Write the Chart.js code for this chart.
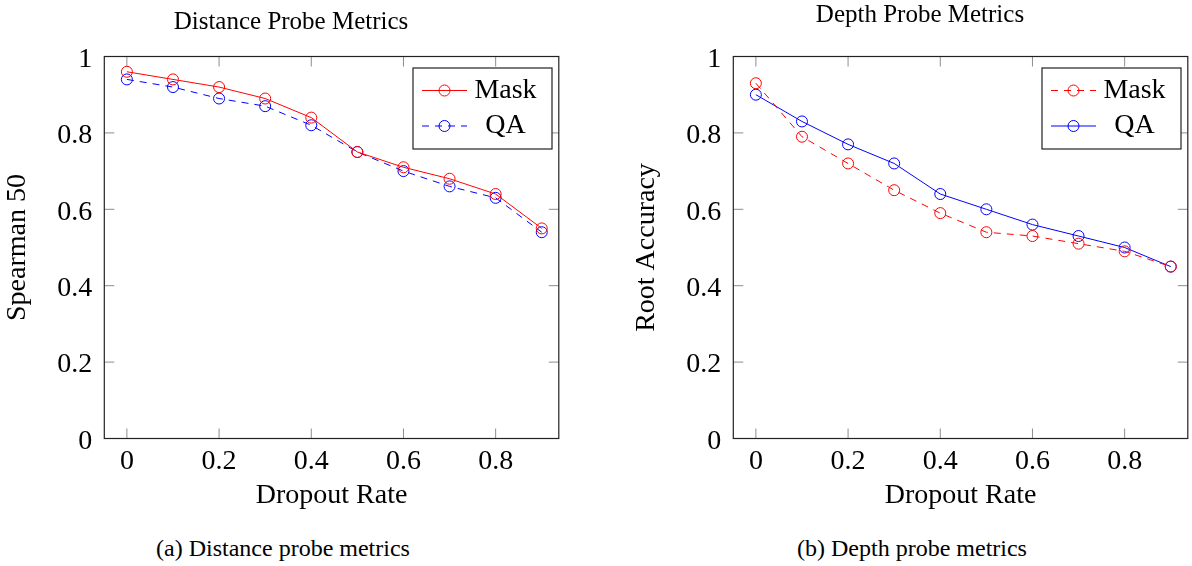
<!DOCTYPE html>
<html>
<head>
<meta charset="utf-8">
<script src="https://cdn.jsdelivr.net/npm/chart.js@4.4.1/dist/chart.umd.min.js"></script>
<style>
  html, body { margin: 0; padding: 0; background: #fff; overflow: hidden; width: 1192px; height: 566px; }
  canvas { position: absolute; top: 0; }
  #c1 { left: 0; }
  #c2 { left: 629px; }
  .cap { position: absolute; top: 536px; font: 24px "Liberation Serif", serif; line-height: 24px;
         white-space: nowrap; transform: translateX(-50%); color: #000; }
</style>
</head>
<body>
<canvas id="c1" width="582" height="520"></canvas>
<canvas id="c2" width="582" height="520"></canvas>
<div class="cap" style="left:283px">(a) Distance probe metrics</div>
<div class="cap" style="left:912px">(b) Depth probe metrics</div>
<script>
// Dropout sweep: distance probe (Spearman) and depth probe (root accuracy).

const DROPOUT = [0, 0.1, 0.2, 0.3, 0.4, 0.5, 0.6, 0.7, 0.8, 0.9];
const X_TICKS = [0, 0.2, 0.4, 0.6, 0.8];
const Y_TICKS = [0, 0.2, 0.4, 0.6, 0.8, 1];

const DIST_MASK = [0.96, 0.94, 0.92, 0.89, 0.84, 0.75, 0.71, 0.68, 0.64, 0.55];
const DIST_QA   = [0.94, 0.92, 0.89, 0.87, 0.82, 0.75, 0.70, 0.66, 0.63, 0.54];

const DEPTH_MASK = [0.93, 0.79, 0.72, 0.65, 0.59, 0.54, 0.53, 0.51, 0.49, 0.45];
const DEPTH_QA   = [0.90, 0.83, 0.77, 0.72, 0.64, 0.60, 0.56, 0.53, 0.50, 0.45];

const RED = "rgb(255,0,0)";
const BLUE = "rgb(0,0,255)";
const SERIF = '"Liberation Serif", "Times New Roman", serif';

Chart.defaults.font.family = SERIF;
Chart.defaults.color = "#000";

const pts = (ys) => ys.map((y, i) => ({ x: DROPOUT[i], y }));
const fmt = (v) => String(+Number(v).toFixed(2));

const series = (label, ys, color, dashed) => ({
  label,
  data: pts(ys),
  borderColor: color,
  backgroundColor: "transparent",
  borderWidth: 1,
  borderDash: dashed ? [7, 6] : [],
  tension: 0,
  pointStyle: "circle",
  pointRadius: 5.5,
  pointBorderWidth: 1,
  pointBorderColor: color,
  pointBackgroundColor: "transparent",
});

// Box round the plot plus pgfplots-style inward ticks on all four sides.
const framePlugin = {
  id: "frame",
  beforeDatasetsDraw(chart) {
    const { ctx, chartArea: a, scales: { x, y } } = chart;
    ctx.save();
    ctx.strokeStyle = "rgba(0,0,0,0.45)";
    ctx.lineWidth = 1;
    ctx.beginPath();
    X_TICKS.forEach(v => {
      const px = x.getPixelForValue(v);
      ctx.moveTo(px, a.bottom); ctx.lineTo(px, a.bottom - 10);
      ctx.moveTo(px, a.top);    ctx.lineTo(px, a.top + 10);
    });
    Y_TICKS.forEach(v => {
      const py = y.getPixelForValue(v);
      ctx.moveTo(a.left, py);  ctx.lineTo(a.left + 10, py);
      ctx.moveTo(a.right, py); ctx.lineTo(a.right - 10, py);
    });
    ctx.stroke();
    ctx.strokeStyle = "#222";
    ctx.lineWidth = 1.2;
    ctx.strokeRect(a.left, a.top, a.width, a.height);
    ctx.restore();
  },
};

// Legend box in the top-right corner, text centred in its cell.
const boxLegend = {
  id: "boxLegend",
  afterDatasetsDraw(chart) {
    const { ctx, chartArea: a } = chart;
    const w = 139, h = 81;
    const left = a.right - 6.8 - w, top = a.top + 11.5;
    ctx.save();
    ctx.fillStyle = "#fff";
    ctx.fillRect(left, top, w, h);
    ctx.strokeStyle = "#222";
    ctx.lineWidth = 1.2;
    ctx.strokeRect(left, top, w, h);
    chart.data.datasets.forEach((ds, i) => {
      const cy = top + 22.5 + i * 35.5;
      ctx.strokeStyle = ds.borderColor;
      ctx.lineWidth = 1;
      ctx.setLineDash(ds.borderDash);
      ctx.beginPath(); ctx.moveTo(left + 9, cy); ctx.lineTo(left + 54, cy); ctx.stroke();
      ctx.setLineDash([]);
      ctx.beginPath(); ctx.arc(left + 31.5, cy, 5.5, 0, Math.PI * 2); ctx.stroke();
      ctx.fillStyle = "#000";
      ctx.font = "28px " + SERIF;
      ctx.textAlign = "center";
      ctx.textBaseline = "middle";
      ctx.fillText(ds.label, left + 92.5, cy);
    });
    ctx.restore();
  },
};

function makeChart(id, title, titlePad, yLabel, datasets) {
  return new Chart(document.getElementById(id), {
    type: "line",
    data: { datasets },
    plugins: [framePlugin, boxLegend],
    options: {
      responsive: false, animation: false, devicePixelRatio: 1,
      layout: { padding: { left: 0, right: 0, top: 0, bottom: 7.2 } },
      plugins: {
        legend: { display: false },
        tooltip: { enabled: false },
        title: { display: true, text: title, color: "#000", padding: titlePad,
                 font: { size: 25, weight: "normal", lineHeight: 1.2 } },
      },
      scales: {
        x: {
          type: "linear", min: -0.049, max: 0.937,
          grid: { display: false, drawTicks: false },
          border: { display: false },
          afterBuildTicks: s => { s.ticks = X_TICKS.map(v => ({ value: v })); },
          afterFit: s => { s.height = 74.3; },
          ticks: { font: { size: 28 }, color: "#000", padding: 6, maxRotation: 0,
                   autoSkip: false, callback: fmt },
          title: { display: true, text: "Dropout Rate", color: "#000",
                   font: { size: 28, lineHeight: 1.2 }, padding: 0 },
        },
        y: {
          type: "linear", position: "left", min: 0, max: 1,
          grid: { display: false, drawTicks: false },
          border: { display: false },
          afterBuildTicks: s => { s.ticks = Y_TICKS.map(v => ({ value: v })); },
          afterFit: s => { s.width = 104.3; },
          ticks: { font: { size: 28 }, color: "#000", padding: 12, labelOffset: 3,
                   autoSkip: false, callback: fmt },
          title: { display: true, text: yLabel, color: "#000",
                   font: { size: 28, lineHeight: 1.2 }, padding: { top: 1, bottom: 0 } },
        },
        // empty right-hand spacer so the title centres on the whole figure
        yRight: {
          type: "linear", position: "right", display: true,
          grid: { display: false, drawTicks: false },
          border: { display: false },
          ticks: { display: false },
          afterFit: s => { s.width = 23.2; },
        },
      },
    },
  });
}

makeChart("c1", "Distance Probe Metrics", { top: 7.6, bottom: 18.9 }, "Spearman 50", [
  series("Mask", DIST_MASK, RED, false),
  series("QA", DIST_QA, BLUE, true),
]);

makeChart("c2", "Depth Probe Metrics", { top: 0, bottom: 26.5 }, "Root Accuracy", [
  series("Mask", DEPTH_MASK, RED, true),
  series("QA", DEPTH_QA, BLUE, false),
]);
</script>
</body>
</html>
